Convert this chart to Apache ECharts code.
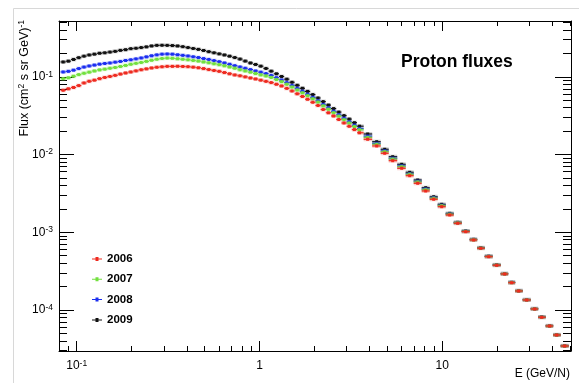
<!DOCTYPE html>
<html><head><meta charset="utf-8">
<script src="https://cdn.jsdelivr.net/npm/echarts@6/dist/echarts.min.js"></script>
<style>html,body{margin:0;padding:0;background:#fff}#c{width:579px;height:383px}</style>
</head><body><div id="c"></div>
<script>
// Kinetic energy per nucleon, bin centres (GeV/N)
const energies = [
0.0843,0.0900,0.0961,0.1026,0.1096,0.1170,0.1249,0.1334,0.1424,0.1520,
0.1623,0.1733,0.1851,0.1976,0.2110,0.2253,0.2405,0.2568,0.2742,0.2928,
0.3126,0.3337,0.3563,0.3805,0.4062,0.4337,0.4631,0.4944,0.5279,0.5637,
0.6018,0.6426,0.6861,0.7325,0.7821,0.8351,0.8916,0.9520,1.0164,1.0852,
1.1587,1.2372,1.3209,1.4103,1.5058,1.6078,1.7166,1.8328,1.9569,2.0894,
2.2309,2.3819,2.5432,2.7153,2.8992,3.0954,3.3050,3.5287,
3.907,4.377,4.841,5.354,5.997,6.632,7.336,8.114,8.974,9.925,
10.98,12.14,13.43,14.85,16.23,17.94,19.84,21.95,23.97,26.18,
28.95,32.03,34.99,38.68,42.25,46.72];

const flux2009 = [
0.1551,0.1588,0.1670,0.1761,0.1841,0.1908,0.1954,0.2007,0.2036,0.2079,
0.2123,0.2187,0.2232,0.2300,0.2327,0.2376,0.2426,0.2491,0.2536,0.2543,
0.2536,0.2521,0.2491,0.2440,0.2376,0.2313,0.2252,0.2180,0.2104,0.2036,
0.1971,0.1908,0.1841,0.1767,0.1690,0.1592,0.1505,0.1440,0.1369,0.1279,
0.1181,0.1093,0.1009,0.09314,0.08496,0.07773,0.07112,0.06488,0.05901,0.05335,
0.04796,0.04323,0.03897,0.03513,0.03167,0.02855,0.02566,0.02313,
0.01836,0.01461,0.01167,0.009369,0.007480,0.005901,0.004697,0.003739,0.002863,0.002286,
0.001751,0.001341,0.001036,0.0008103,0.0006317,0.0004910,0.0003806,0.0002932,0.0002266,0.0001767,
0.0001353,0.0001036,0.00008103,0.00006243,0.00004781,0.00003451];

const flux2008 = [
0.1153,0.1174,0.1216,0.1275,0.1333,0.1377,0.1414,0.1453,0.1483,0.1505,
0.1541,0.1574,0.1621,0.1655,0.1700,0.1746,0.1804,0.1863,0.1914,0.1954,
0.1965,0.1954,0.1919,0.1886,0.1852,0.1809,0.1767,0.1715,0.1670,0.1616,
0.1564,0.1505,0.1448,0.1390,0.1337,0.1287,0.1238,0.1188,0.1146,0.1100,
0.1042,0.09737,0.09095,0.08421,0.07727,0.07091,0.06507,0.05954,0.05431,0.04910,
0.04400,0.03979,0.03597,0.03243,0.02924,0.02636,0.02376,0.02154,
0.01720,0.01390,0.01113,0.008935,0.007133,0.005661,0.004520,0.003597,0.002780,0.002220,
0.001715,0.001325,0.001027,0.0008031,0.0006261,0.0004881,0.0003783,0.0002915,0.0002252,0.0001761,
0.0001349,0.0001033,0.00008078,0.00006224,0.00004767,0.00003441];

const flux2007 = [
0.09453,0.09708,0.1015,0.1067,0.1109,0.1146,0.1188,0.1227,0.1253,0.1287,
0.1317,0.1357,0.1398,0.1448,0.1488,0.1528,0.1578,0.1631,0.1680,0.1720,
0.1741,0.1730,0.1705,0.1680,0.1655,0.1621,0.1592,0.1551,0.1514,0.1470,
0.1431,0.1385,0.1337,0.1287,0.1231,0.1188,0.1146,0.1100,0.1058,0.1024,
0.09795,0.09204,0.08649,0.08007,0.07370,0.06763,0.06224,0.05712,0.05210,0.04725,
0.04222,0.03817,0.03451,0.03111,0.02805,0.02536,0.02293,0.02079,
0.01660,0.01353,0.01087,0.008726,0.006966,0.005561,0.004427,0.003524,0.002731,0.002193,
0.001700,0.001317,0.001024,0.0007984,0.0006243,0.0004867,0.0003772,0.0002906,0.0002246,0.0001756,
0.0001345,0.0001030,0.00008055,0.00006206,0.00004753,0.00003431];

const flux2006 = [
0.06703,0.07008,0.07283,0.07704,0.08321,0.08752,0.09042,0.09453,0.09795,0.1009,
0.1042,0.1083,0.1119,0.1153,0.1191,0.1231,0.1264,0.1298,0.1325,0.1345,
0.1361,0.1361,0.1365,0.1357,0.1349,0.1329,0.1306,0.1275,0.1238,0.1205,
0.1174,0.1133,0.1093,0.1055,0.1030,0.09971,0.09651,0.09369,0.09042,0.08726,
0.08421,0.08007,0.07614,0.07091,0.06565,0.06042,0.05578,0.05134,0.04697,0.04272,
0.03794,0.03441,0.03130,0.02821,0.02543,0.02306,0.02092,0.01902,
0.01569,0.01287,0.01036,0.008321,0.006643,0.005335,0.004259,0.003390,0.002651,0.002129,
0.001665,0.001302,0.001015,0.0007936,0.0006206,0.0004838,0.0003750,0.0002898,0.0002239,0.0001751,
0.0001341,0.0001027,0.00008031,0.00006206,0.00004753,0.00003431];

const years = ['2006','2007','2008','2009'];
const xTicks = [0.1, 1, 10];
const xTickLabels = ['10^-1', '1', '10'];
const yTicks = [1e-4, 1e-3, 1e-2, 1e-1];
const yTickLabels = ['10^-4', '10^-3', '10^-2', '10^-1'];
const xRange = [0.08, 50.6];
const yRange = [2.96e-5, 0.522];

const lg = Math.log10;
const FONT = '"Liberation Sans", Arial, Helvetica, sans-serif';
const seriesStyle = {
  '2006': {color: '#ee2a1f', box: 'rgba(238,42,31,0.22)'},
  '2007': {color: '#72e03e', box: 'rgba(114,224,62,0.25)'},
  '2008': {color: '#1b2ef0', box: 'rgba(27,46,240,0.2)'},
  '2009': {color: '#111111', box: 'rgba(0,0,0,0.18)'}
};
const fluxByYear = {'2006': flux2006, '2007': flux2007, '2008': flux2008, '2009': flux2009};

function toRich(s) {
  const m = s.split('^');
  return m.length > 1 ? '{b|' + m[0] + '}{s|' + m[1] + '}' : '{b|' + s + '}';
}
function minorList(lo, hi, d0, d1) {
  const out = [];
  for (let n = d0; n <= d1; n++) for (let k = 2; k <= 9; k++) {
    const v = n + lg(k);
    if (v > lo + 1e-6 && v < hi - 1e-6) out.push(v);
  }
  return out;
}
const xMin = lg(xRange[0]), xMax = lg(xRange[1]);
const yMin = lg(yRange[0]), yMax = lg(yRange[1]);
const xMajorLog = xTicks.map(lg), yMajorLog = yTicks.map(lg);
const xMinorLog = minorList(xMin, xMax, -2, 1);
const yMinorLog = minorList(yMin, yMax, -5, -1);
const labelRich = {
  b: {fontSize: 12, fontFamily: FONT, color: '#000', lineHeight: 14},
  s: {fontSize: 8.5, fontFamily: FONT, color: '#000', verticalAlign: 'top', lineHeight: 9}
};
function fmt(ticks, labels) {
  return v => {
    const i = ticks.findIndex(t => Math.abs(lg(t) - v) < 1e-6);
    return i < 0 ? '' : toRich(labels[i]);
  };
}
const black = {color: '#000', width: 1};
function xAx(pos, major, show) {
  return {
    type: 'value', position: pos, offset: 0, min: xMin, max: xMax,
    axisLine: {show: major, onZero: false, lineStyle: black},
    axisTick: {show: true, inside: true, length: major ? 10 : 5, customValues: major ? xMajorLog : xMinorLog, lineStyle: black},
    axisLabel: show ? {show: true, customValues: xMajorLog, formatter: fmt(xTicks, xTickLabels), rich: labelRich, margin: 8} : {show: false},
    splitLine: {show: false}
  };
}
function yAx(pos, major, show, len) {
  return {
    type: 'value', position: pos, offset: 0, min: yMin, max: yMax,
    axisLine: {show: major, onZero: false, lineStyle: black},
    axisTick: {show: true, inside: true, length: len, customValues: major ? yMajorLog : yMinorLog, lineStyle: black},
    axisLabel: show ? {show: true, customValues: yMajorLog, formatter: fmt(yTicks, yTickLabels), rich: labelRich, margin: 6} : {show: false},
    splitLine: {show: false}
  };
}

function makeData(flux) {
  const n = energies.length;
  return energies.map((e, i) => {
    const prev = i > 0 ? energies[i - 1] : e * e / energies[i + 1];
    const next = i < n - 1 ? energies[i + 1] : e * e / energies[i - 1];
    return [lg(e), lg(flux[i]), (lg(prev) + lg(e)) / 2, (lg(e) + lg(next)) / 2];
  });
}
function makeSeries(year) {
  const st = seriesStyle[year];
  return {
    name: year, type: 'custom', xAxisIndex: 0, yAxisIndex: 0, clip: true,
    itemStyle: {color: st.color},
    data: makeData(fluxByYear[year]),
    renderItem: (params, api) => {
      const y = api.value(1);
      const c = api.coord([api.value(0), y]);
      const l = api.coord([api.value(2), y]);
      const r = api.coord([api.value(3), y]);
      return {type: 'group', children: [
        {type: 'rect', shape: {x: l[0], y: c[1] - 2, width: r[0] - l[0], height: 4}, style: {fill: st.box}},
        {type: 'line', shape: {x1: l[0], y1: c[1], x2: r[0], y2: c[1]}, style: {stroke: st.color, lineWidth: 1.2}},
        {type: 'rect', shape: {x: c[0] - 1.5, y: c[1] - 1.5, width: 3, height: 3}, style: {fill: st.color}}
      ]};
    }
  };
}

const chart = echarts.init(document.getElementById('c'), null, {renderer: 'canvas'});
chart.setOption({
  animation: false,
  backgroundColor: '#fff',
  textStyle: {fontFamily: FONT},
  grid: {left: 59, right: 8, top: 21, bottom: 32, containLabel: false},
  title: {text: 'Proton fluxes', left: 401, top: 53, padding: 0,
    textStyle: {fontFamily: FONT, fontWeight: 'bold', fontSize: 17.5, color: '#000'}},
  legend: {data: years, orient: 'vertical', left: 92, top: 252, padding: 0,
    itemWidth: 10, itemHeight: 4, itemGap: 6.3, selectedMode: false,
    icon: 'path://M0,1.5H10V2.5H0Z M3.5,0H6.5V4H3.5Z',
    textStyle: {fontFamily: FONT, fontWeight: 'bold', fontSize: 11.5, color: '#000', lineHeight: 14}},
  xAxis: [xAx('bottom', true, true), xAx('bottom', false, false), xAx('top', true, false), xAx('top', false, false)],
  yAxis: [yAx('left', true, true, 15), yAx('left', false, false, 8), yAx('right', true, false, 16), yAx('right', false, false, 8)],
  graphic: [
    {type: 'rect', silent: true, z: -1, shape: {x: 13.5, y: 8.5, width: 700, height: 500}, style: {fill: null, stroke: '#d8d8d8', lineWidth: 1}},
    {type: 'text', x: 25, y: 20, rotation: Math.PI / 2,
      style: {text: '{a|Flux (cm}{s|2}{a| s sr GeV)}{s|-1}', align: 'right', verticalAlign: 'middle',
        rich: {a: {fontSize: 12.5, fontFamily: FONT, color: '#000', lineHeight: 15},
               s: {fontSize: 8.5, fontFamily: FONT, color: '#000', verticalAlign: 'top', lineHeight: 9}}}},
    {type: 'text', x: 570, y: 374,
      style: {text: 'E (GeV/N)', align: 'right', verticalAlign: 'middle', fontSize: 12, fontFamily: FONT, fill: '#000'}}
  ],
  series: ['2009', '2008', '2007', '2006'].map(makeSeries)
});
</script></body></html>
